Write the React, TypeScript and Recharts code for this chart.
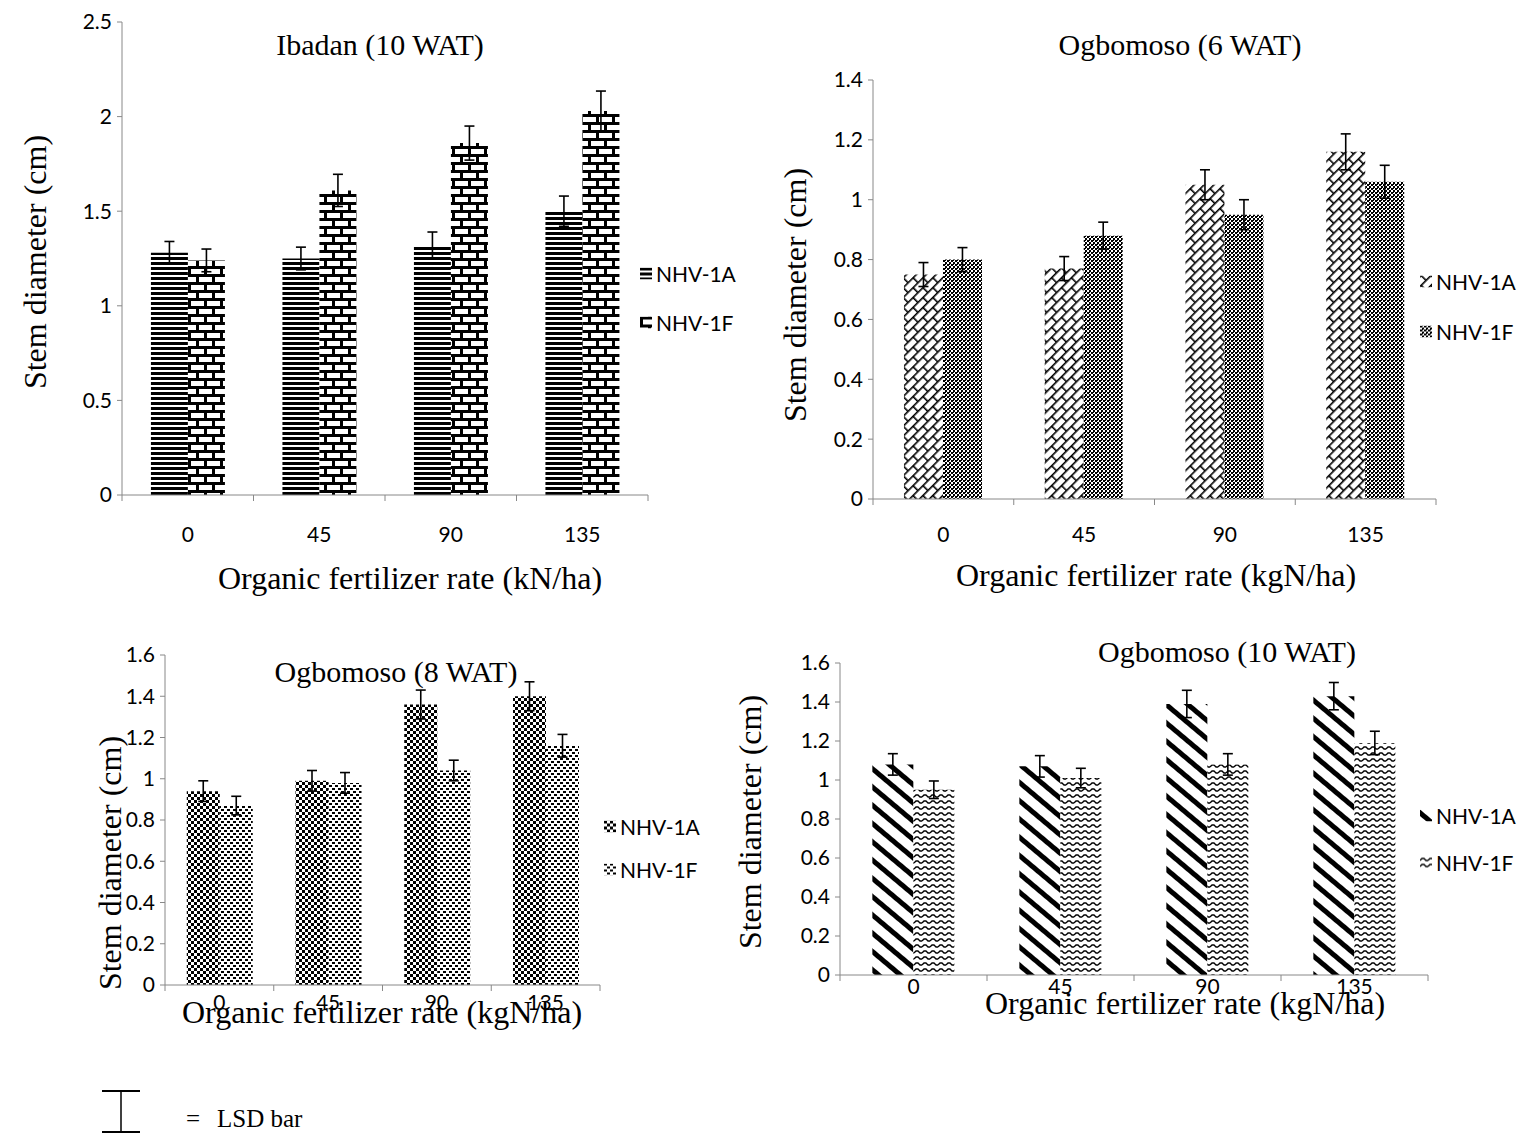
import { BarChart, Bar, XAxis, YAxis, ErrorBar } from 'recharts'

const rates = ['0', '45', '90', '135']

// Ibadan (10 WAT)
const ibadanA = [1.28, 1.25, 1.32, 1.5]
const ibadanF = [1.24, 1.61, 1.86, 2.03]
const ibadanErrA = [0.06, 0.06, 0.07, 0.08]
const ibadanErrF = [0.06, 0.085, 0.09, 0.105]

// Ogbomoso (6 WAT)
const og6A = [0.75, 0.77, 1.05, 1.16]
const og6F = [0.8, 0.88, 0.95, 1.06]
const og6ErrA = [0.04, 0.04, 0.05, 0.06]
const og6ErrF = [0.04, 0.045, 0.05, 0.055]

// Ogbomoso (8 WAT)
const og8A = [0.94, 0.99, 1.36, 1.4]
const og8F = [0.87, 0.98, 1.04, 1.16]
const og8ErrA = [0.05, 0.05, 0.07, 0.07]
const og8ErrF = [0.045, 0.05, 0.05, 0.055]

// Ogbomoso (10 WAT)
const og10A = [1.08, 1.07, 1.39, 1.43]
const og10F = [0.95, 1.01, 1.08, 1.19]
const og10ErrA = [0.055, 0.055, 0.07, 0.07]
const og10ErrF = [0.045, 0.05, 0.055, 0.06]

const ticks25 = [0, 0.5, 1, 1.5, 2, 2.5]
const ticks14 = [0, 0.2, 0.4, 0.6, 0.8, 1, 1.2, 1.4]
const ticks16 = [0, 0.2, 0.4, 0.6, 0.8, 1, 1.2, 1.4, 1.6]

const AXIS = '#888888'
const SERIF = '"Liberation Serif", "Times New Roman", serif'
const SANS = 'Lato, "Noto Sans", sans-serif'

function rows(a: number[], f: number[], ea: number[], ef: number[]) {
  return rates.map((rate, i) => ({ rate, a: a[i], f: f[i], ea: ea[i], ef: ef[i] }))
}

function Patterns() {
  return (
    <svg width={0} height={0} style={{ position: 'absolute' }}>
      <defs>
        <pattern id="p-hstripe" width={8} height={5} patternUnits="userSpaceOnUse">
          <rect width={8} height={5} fill="#fff" />
          <rect width={8} height={3} fill="#000" />
        </pattern>
        <pattern id="p-brick" width={16} height={16} patternUnits="userSpaceOnUse">
          <rect width={16} height={16} fill="#fff" />
          <rect width={16} height={3} fill="#000" />
          <rect y={8} width={16} height={3} fill="#000" />
          <rect width={3} height={8} fill="#000" />
          <rect x={8} y={8} width={3} height={8} fill="#000" />
        </pattern>
        <pattern id="p-diagbrick" width={14} height={14} patternUnits="userSpaceOnUse" patternTransform="rotate(-45)">
          <rect width={14} height={14} fill="#fff" />
          <rect width={14} height={1.6} fill="#000" />
          <rect y={7} width={14} height={1.6} fill="#000" />
          <rect width={1.6} height={7} fill="#000" />
          <rect x={7} y={7} width={1.6} height={7} fill="#000" />
        </pattern>
        <pattern id="p-check2" width={4} height={4} patternUnits="userSpaceOnUse">
          <rect width={4} height={4} fill="#fff" />
          <rect width={2} height={2} fill="#000" />
          <rect x={2} y={2} width={2} height={2} fill="#000" />
          <rect x={2} y={0} width={1} height={1} fill="#000" />
        </pattern>
        <pattern id="p-check3" width={6} height={6} patternUnits="userSpaceOnUse">
          <rect width={6} height={6} fill="#fff" />
          <rect width={3} height={3} fill="#000" />
          <rect x={3} y={3} width={3} height={3} fill="#000" />
        </pattern>
        <pattern id="p-sparse" width={6} height={6} patternUnits="userSpaceOnUse">
          <rect width={6} height={6} fill="#fff" />
          <rect width={3} height={2} fill="#000" />
          <rect x={3} y={3} width={3} height={2} fill="#000" />
        </pattern>
        <pattern id="p-thickdiag" width={14} height={14} patternUnits="userSpaceOnUse" patternTransform="rotate(40)">
          <rect width={14} height={14} fill="#fff" />
          <rect width={14} height={5} fill="#000" />
        </pattern>
        <pattern id="p-wave" width={8} height={6} patternUnits="userSpaceOnUse">
          <rect width={8} height={6} fill="#fff" />
          <path d="M0 4 L2 2 L4 2 L6 4 L8 4" stroke="#000" strokeWidth={1.3} fill="none" />
        </pattern>
      </defs>
    </svg>
  )
}

interface PanelProps {
  data: ReturnType<typeof rows>
  domain: [number, number]
  ticks: number[]
  plot: { x: number; y: number; w: number; h: number }
  gap: string
  fillA: string
  fillF: string
  tickDy: number
  title: string
  titleAt: [number, number]
  xLabel: string
  xLabelAt: [number, number]
  yLabelAt: [number, number]
  legendAt: [number, number, number]
}

function Panel(p: PanelProps) {
  const band = p.plot.w / rates.length
  const XTick = (props: any) => {
    const { x, y, payload, index } = props
    const left = x - band / 2
    return (
      <g>
        <line x1={left} x2={left} y1={y} y2={y + 6} stroke={AXIS} />
        {index === rates.length - 1 && (
          <line x1={x + band / 2} x2={x + band / 2} y1={y} y2={y + 6} stroke={AXIS} />
        )}
        <text x={x} y={y + p.tickDy} textAnchor="middle" dominantBaseline="central"
          fontFamily={SANS} fontSize={21} fill="#000">
          {payload.value}
        </text>
      </g>
    )
  }
  const text = (s: string, at: [number, number], size: number, rotate = false) => (
    <div style={{
      position: 'absolute', left: at[0], top: at[1], whiteSpace: 'nowrap',
      transform: `translate(-50%, -50%)${rotate ? ' rotate(-90deg)' : ''}`,
      fontFamily: SERIF, fontSize: size, lineHeight: 1, color: '#000',
    }}>{s}</div>
  )
  const legendItem = (fill: string, label: string, cy: number) => (
    <div style={{
      position: 'absolute', left: p.legendAt[0], top: cy, transform: 'translateY(-50%)',
      display: 'flex', alignItems: 'center', gap: 4, fontFamily: SANS, fontSize: 21, lineHeight: 1,
    }}>
      <svg width={12} height={12}><rect width={12} height={12} fill={fill} /></svg>
      <span>{label}</span>
    </div>
  )
  return (
    <>
      <div style={{ position: 'absolute', left: p.plot.x - 70, top: p.plot.y - 20 }}>
        <BarChart
          width={p.plot.w + 80}
          height={p.plot.h + 70}
          data={p.data}
          margin={{ top: 20, right: 10, bottom: 0, left: 0 }}
          barCategoryGap={p.gap}
          barGap={0}
        >
          <XAxis dataKey="rate" height={50} stroke={AXIS} tickLine={false} tickSize={0} tickMargin={0}
            tick={XTick} interval={0} />
          <YAxis width={70} domain={p.domain} ticks={p.ticks} interval={0} stroke={AXIS}
            tickSize={5} tickMargin={5} tick={{ fill: '#000', fontFamily: SANS, fontSize: 21 }} />
          <Bar dataKey="a" fill={p.fillA} isAnimationActive={false}>
            <ErrorBar dataKey="ea" direction="y" width={5} stroke="#000" strokeWidth={1.6} />
          </Bar>
          <Bar dataKey="f" fill={p.fillF} isAnimationActive={false}>
            <ErrorBar dataKey="ef" direction="y" width={5} stroke="#000" strokeWidth={1.6} />
          </Bar>
        </BarChart>
      </div>
      {text(p.title, p.titleAt, 30)}
      {text(p.xLabel, p.xLabelAt, 32)}
      {text('Stem diameter (cm)', p.yLabelAt, 32, true)}
      {legendItem(p.fillA, 'NHV-1A', p.legendAt[1])}
      {legendItem(p.fillF, 'NHV-1F', p.legendAt[2])}
    </>
  )
}

export default function App() {
  return (
    <div style={{ position: 'absolute', left: 0, top: 0, width: 1529, height: 1133, background: '#fff', overflow: 'hidden' }}>
      <Patterns />
      <Panel
        data={rows(ibadanA, ibadanF, ibadanErrA, ibadanErrF)}
        domain={[0, 2.5]} ticks={ticks25}
        plot={{ x: 122, y: 22, w: 526, h: 473 }} gap="22%"
        fillA="url(#p-hstripe)" fillF="url(#p-brick)" tickDy={38}
        title="Ibadan (10 WAT)" titleAt={[380, 45]}
        xLabel="Organic fertilizer rate (kN/ha)" xLabelAt={[410, 578]}
        yLabelAt={[35, 262]} legendAt={[640, 273, 322]}
      />
      <Panel
        data={rows(og6A, og6F, og6ErrA, og6ErrF)}
        domain={[0, 1.4]} ticks={ticks14}
        plot={{ x: 873, y: 80, w: 563, h: 419 }} gap="22%"
        fillA="url(#p-diagbrick)" fillF="url(#p-check2)" tickDy={34}
        title="Ogbomoso (6 WAT)" titleAt={[1180, 45]}
        xLabel="Organic fertilizer rate (kgN/ha)" xLabelAt={[1156, 575]}
        yLabelAt={[795, 295]} legendAt={[1420, 281, 331]}
      />
      <Panel
        data={rows(og8A, og8F, og8ErrA, og8ErrF)}
        domain={[0, 1.6]} ticks={ticks16}
        plot={{ x: 165, y: 655, w: 435, h: 330 }} gap="20%"
        fillA="url(#p-check3)" fillF="url(#p-sparse)" tickDy={16}
        title="Ogbomoso (8 WAT)" titleAt={[396, 672]}
        xLabel="Organic fertilizer rate (kgN/ha)" xLabelAt={[382, 1012]}
        yLabelAt={[110, 863]} legendAt={[604, 826, 869]}
      />
      <Panel
        data={rows(og10A, og10F, og10ErrA, og10ErrF)}
        domain={[0, 1.6]} ticks={ticks16}
        plot={{ x: 840, y: 663, w: 588, h: 312 }} gap="22%"
        fillA="url(#p-thickdiag)" fillF="url(#p-wave)" tickDy={10}
        title="Ogbomoso (10 WAT)" titleAt={[1227, 652]}
        xLabel="Organic fertilizer rate (kgN/ha)" xLabelAt={[1185, 1003]}
        yLabelAt={[750, 822]} legendAt={[1420, 815, 862]}
      />
      <svg width={60} height={50} style={{ position: 'absolute', left: 95, top: 1085 }}>
        <line x1={7} x2={45} y1={6} y2={6} stroke="#000" strokeWidth={2} />
        <line x1={26} x2={26} y1={6} y2={47} stroke="#000" strokeWidth={1.5} />
        <line x1={7} x2={45} y1={47} y2={47} stroke="#000" strokeWidth={2} />
      </svg>
      <div style={{ position: 'absolute', left: 186, top: 1118, transform: 'translateY(-50%)', fontFamily: SERIF, fontSize: 25, lineHeight: 1 }}>
        =
      </div>
      <div style={{ position: 'absolute', left: 217, top: 1118, transform: 'translateY(-50%)', fontFamily: SERIF, fontSize: 25, lineHeight: 1, whiteSpace: 'nowrap' }}>
        LSD bar
      </div>
    </div>
  )
}
